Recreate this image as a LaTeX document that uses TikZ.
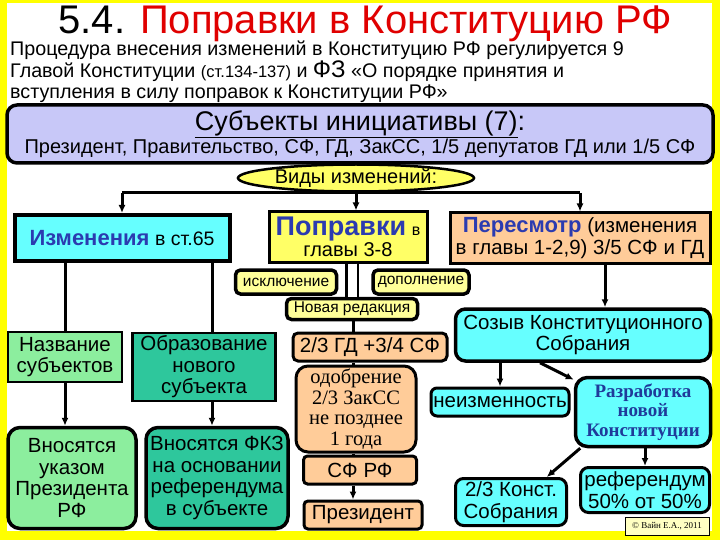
\documentclass[tikz,border=0pt]{standalone}
\usepackage{fontspec}
\setmainfont{Liberation Sans}
\newfontfamily\serifru{Liberation Serif}
\usepackage{xcolor}
\usetikzlibrary{arrows.meta,positioning,shapes.geometric}
\definecolor{KonFrame}{HTML}{FFFF00}
\definecolor{KonLav}{HTML}{C8C8F8}
\definecolor{KonCyan}{HTML}{66FFFF}
\definecolor{KonYel}{HTML}{FFFF66}
\definecolor{KonPeach}{HTML}{FFCC99}
\definecolor{KonPale}{HTML}{FFFF99}
\definecolor{KonGreen}{HTML}{8CEE9E}
\definecolor{KonTeal}{HTML}{2EC79C}
\definecolor{KonBlue}{HTML}{2B3BB0}
\definecolor{KonNavy}{HTML}{1F3A9A}
\definecolor{KonRed}{HTML}{E00000}
\newcommand{\fsz}[2]{\fontsize{#1}{#2}\selectfont}

\begin{document}
\begin{tikzpicture}[x=1pt,y=-1pt, every node/.style={font=\fsz{20.5}{21.5}}, b/.style={draw,line width=3pt,align=center,inner sep=2pt}, rb/.style={b,rounded corners=8pt}, sm/.style={rb,fill=KonPale,line width=3.5pt,rounded corners=5pt,font=\fsz{15.5}{16},inner sep=1pt}, a/.style={-{Latex[length=8pt,width=7pt]},line width=3pt}, l/.style={line width=3pt}]
\fill[KonFrame] (0,0) rectangle (720,540);
\fill[white] (7,3) rectangle (712,531);
% title and preamble text
\node[anchor=base west,font=\fsz{40}{40}] (title) at (55,34) {5.4. \textcolor{KonRed}{Поправки в Конституцию РФ}};
\node[anchor=north west,align=left,inner sep=0pt,font=\fsz{19.7}{21.5}] (proc) at (10,41) {Процедура внесения изменений в Конституцию РФ регулируется 9\\Главой Конституции {\fsz{16.5}{21.5}(ст.134-137)} и {\fsz{24}{21.5}ФЗ} «О порядке принятия и\\вступления в силу поправок к Конституции РФ»};
% initiative
\node[rb,fill=KonLav,line width=3.5pt,rounded corners=10pt,minimum width=706pt,minimum height=58pt,inner sep=0pt] (subj) at (360,134) {{\fsz{27}{29}\underline{Субъекты инициативы (7)}:}\\{\fsz{20}{22}Президент, Правительство, СФ, ГД, ЗакСС, 1/5 депутатов ГД или 1/5 СФ}};
\node[ellipse,draw,line width=2.5pt,fill=KonYel,minimum width=236pt,minimum height=27pt,inner sep=0pt,font=\fsz{20}{20}] (vidy) at (356,178) {Виды изменений:};
% three kinds
\node[b,fill=KonCyan,line width=4pt,minimum width=215pt,minimum height=46pt] (izm) at (122,238) {{\bfseries\fsz{22}{23}\textcolor{KonBlue}{Изменения}} {\fsz{19.5}{21}в ст.65}};
\node[b,fill=KonYel,minimum width=158pt,minimum height=50pt,inner sep=0pt] (popr) at (348,237) {{\bfseries\fsz{27}{24}\textcolor{KonBlue}{Поправки}} {\fsz{16}{20}в}\\{\fsz{20}{22}главы 3-8}};
\node[b,fill=KonPeach,minimum width=260pt,minimum height=50pt,inner sep=0pt] (peres) at (580,238) {{\bfseries\fsz{22}{22}\textcolor{KonBlue}{Пересмотр}} {\fsz{20.5}{22}(изменения}\\в главы 1-2,9) 3/5 СФ и ГД};
\node[sm,minimum width=101pt,minimum height=24pt] (iskl) at (286,282) {исключение};
\node[sm,minimum width=96pt,minimum height=24pt] (dopol) at (421,282) {дополнение};
\node[sm,minimum width=131pt,minimum height=21pt] (novred) at (352,309) {Новая редакция};
% left branch
\node[b,fill=KonGreen,line width=2.5pt,minimum width=114pt,minimum height=50pt,inner sep=0pt] (nazv) at (65,357) {Название\\субъектов};
\node[b,fill=KonTeal,line width=2.5pt,minimum width=143pt,minimum height=68pt,inner sep=0pt] (obraz) at (204,367) {Образование\\нового\\субъекта};
\node[rb,fill=KonGreen,line width=3.5pt,rounded corners=12pt,minimum width=128pt,minimum height=101pt,inner sep=0pt] (ukaz) at (72,478) {Вносятся\\указом\\Президента\\РФ};
\node[rb,fill=KonTeal,line width=3.5pt,rounded corners=12pt,minimum width=142pt,minimum height=101pt,inner sep=0pt] (fkz) at (217,478) {Вносятся ФКЗ\\на основании\\референдума\\в субъекте};
% amendments branch
\node[rb,fill=KonPeach,rounded corners=5pt,minimum width=154pt,minimum height=28pt,inner sep=0pt] (gd) at (370,347) {2/3 ГД +3/4 СФ};
\node[rb,fill=KonPeach,rounded corners=12pt,minimum width=120pt,minimum height=86pt,inner sep=0pt,font=\serifru\fsz{20.5}{20.5}] (odobr) at (356,409) {одобрение\\2/3 ЗакСС\\не позднее\\1 года};
\node[rb,fill=KonPeach,rounded corners=4pt,minimum width=113pt,minimum height=28pt,inner sep=0pt] (sfrf) at (360,470) {СФ РФ};
\node[rb,fill=KonPeach,rounded corners=4pt,minimum width=118pt,minimum height=28pt,inner sep=0pt] (prez) at (363,515) {Президент};
% revision branch
\node[rb,fill=KonCyan,line width=3.5pt,rounded corners=10pt,minimum width=255pt,minimum height=52pt,inner sep=0pt] (sozyv) at (583,335) {Созыв Конституционного\\Собрания};
\node[rb,fill=KonCyan,rounded corners=6pt,minimum width=138pt,minimum height=28pt,inner sep=0pt] (neizm) at (500,402) {неизменность};
\node[rb,fill=KonCyan,line width=3.5pt,rounded corners=12pt,minimum width=135pt,minimum height=69pt,inner sep=0pt,font=\serifru\bfseries\fsz{19}{19.5}\color{KonNavy}] (razr) at (643,412) {Разработка\\новой\\Конституции};
\node[rb,fill=KonCyan,rounded corners=8pt,minimum width=111pt,minimum height=47pt,inner sep=0pt] (konst) at (511,502) {2/3 Конст.\\Собрания};
\node[rb,fill=KonCyan,rounded corners=8pt,minimum width=129pt,minimum height=45pt,inner sep=0pt] (ref) at (645,490) {референдум\\50\% от 50\%};
\node[draw,fill=KonPale!60,line width=0.8pt,minimum width=84pt,minimum height=18pt,inner sep=0pt,font=\serifru\fsz{9}{10}] (copy) at (667,526) {© Вайн Е.А., 2011};
% connectors
\coordinate (bar) at (356,193);
\coordinate (vx) at (353,0);
\coordinate (px) at (605,0);
\draw[l] (vidy.south) -- (vidy.south |- bar);
\draw[l] (izm.north |- bar) -- (peres.north |- bar);
\draw[a] (izm.north |- bar) -- (izm.north);
\draw[a] (vidy.south |- bar) -- (popr.north -| vidy);
\draw[a] (peres.north |- bar) -- (peres.north);
\draw[l] (izm.south -| nazv) -- (nazv.north);
\draw[l] ([xshift=8pt]izm.south -| obraz) -- ([xshift=8pt]obraz.north);
\draw[a] (nazv.south) -- (nazv.south |- ukaz.north);
\draw[a] ([xshift=8pt]obraz.south) -- ([xshift=8pt]obraz.south |- fkz.north);
\draw[line width=2.5pt,double=white,double distance=9pt] (popr.south -| novred) -- (novred.north);
\draw[l] (novred.south -| vx) -- (gd.north -| vx);
\draw[l] (gd.south -| vx) -- (odobr.north -| vx);
\draw[l] (odobr.south -| vx) -- (sfrf.north -| vx);
\draw[a] (sfrf.south -| vx) -- (prez.north -| vx);
\draw[a] (peres.south -| px) -- (sozyv.north -| px);
\draw[a] (sozyv.south -| neizm) -- (neizm.north);
\draw[a] ([xshift=-43pt]sozyv.south) -- (razr.155);
\draw[a] (razr.210) -- (konst.35);
\draw[a] (razr.south -| ref) -- (ref.north);
\end{tikzpicture}
\end{document}
